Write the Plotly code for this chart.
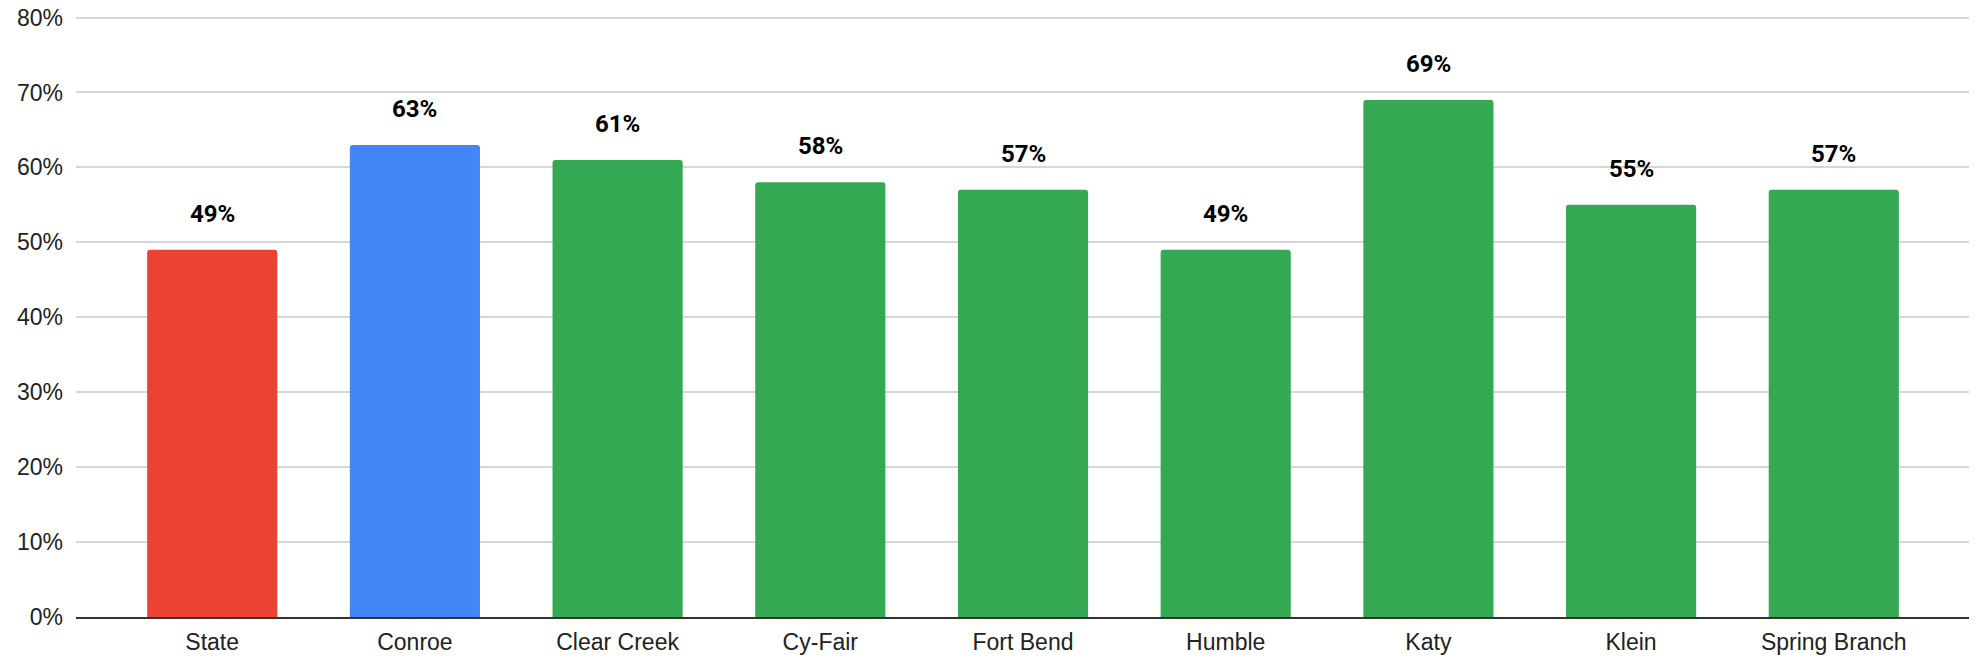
import plotly.graph_objects as go

categories = ["State", "Conroe", "Clear Creek", "Cy-Fair", "Fort Bend", "Humble", "Katy", "Klein", "Spring Branch"]
values = [49, 63, 61, 58, 57, 49, 69, 55, 57]
bar_colors = ["#EA4335", "#4285F4", "#34A853", "#34A853", "#34A853", "#34A853", "#34A853", "#34A853", "#34A853"]
y_ticks = [0, 10, 20, 30, 40, 50, 60, 70, 80]

fig = go.Figure()
fig.add_trace(go.Bar(
    x=categories,
    y=values,
    marker=dict(color=bar_colors, line=dict(width=0), cornerradius=3),
    hoverinfo="x+y",
))

for c, v in zip(categories, values):
    fig.add_annotation(
        x=c, y=v, text=f"{v}%", showarrow=False,
        yanchor="middle", yshift=36,
        font=dict(family="Roboto", size=24, color="#000000", weight="bold"),
    )

# page body has an 8px margin; compensate so the plot lands where the reference has it
fig.update_layout(
    width=1969, height=652,
    margin=dict(l=68, r=7, t=8, b=43),
    paper_bgcolor="white", plot_bgcolor="white",
    bargap=0.358,
    showlegend=False,
    font=dict(family="Liberation Sans, Arial, sans-serif", size=23, color="#222222"),
)
fig.update_xaxes(
    range=[-0.672, 8.672],
    automargin=False,
    showgrid=False,
    showline=True, linecolor="#333333", linewidth=1.5,
    ticks="",
    ticklabelstandoff=4,
    tickfont=dict(size=23, color="#222222"),
)
fig.update_yaxes(
    range=[0, 80.2],
    automargin=False,
    tickvals=y_ticks,
    ticktext=[f"{t}%" for t in y_ticks],
    showgrid=True, gridcolor="#d6d6d6", gridwidth=1.5,
    zeroline=False,
    showline=False,
    ticks="",
    ticklabelstandoff=12,
    ticklabeloverflow="allow",
    tickfont=dict(size=23, color="#222222"),
)

fig.write_html("out.html")
